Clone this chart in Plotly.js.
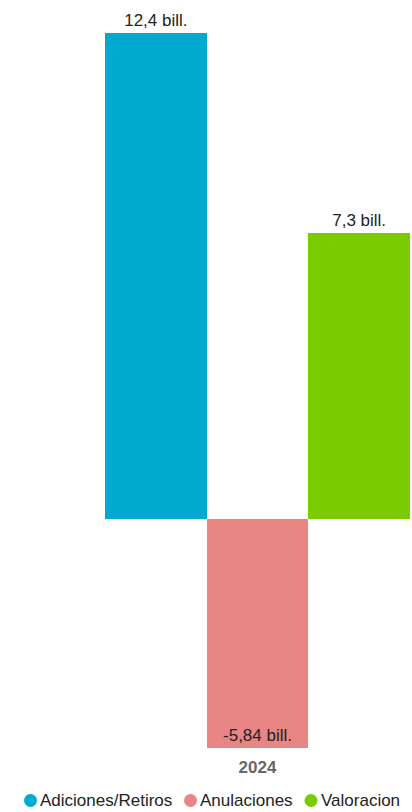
<!DOCTYPE html>
<html>
<head>
<meta charset="utf-8">
<script src="https://cdn.plot.ly/plotly-3.0.1.min.js"></script>
<style>
  html, body { margin: 0; padding: 0; background: #fff; }
  #chart { width: 412px; height: 812px; }
</style>
</head>
<body>
<div id="chart"></div>
<script>
// ---- data ----
const categories = ['2024'];
const seriesNames = ['Adiciones/Retiros', 'Anulaciones', 'Valoracion'];
const adicionesRetiros = [12.4];
const anulaciones = [-5.84];
const valoracion = [7.3];
const unitSuffix = ' bill.';

// ---- styles ----
const colors = ['#00A9CE', '#E88585', '#7ACC00'];
const font = 'Liberation Sans, Arial, sans-serif';
const seriesValues = [adicionesRetiros, anulaciones, valoracion];

function fmt(v) { return String(v).replace('.', ',') + unitSuffix; }

const traces = seriesValues.map((vals, i) => ({
  type: 'bar',
  name: seriesNames[i],
  x: categories,
  y: vals,
  marker: { color: colors[i], line: { width: 0 } },
  text: vals.map(fmt),
  textposition: vals.map(v => v < 0 ? 'inside' : 'outside'),
  insidetextanchor: 'end',
  constraintext: 'none',
  cliponaxis: false,
  textfont: { family: font, size: 17, color: '#222' },
  insidetextfont: { family: font, size: 17, color: '#222' },
  outsidetextfont: { family: font, size: 17, color: '#222' },
  hoverinfo: 'skip',
  showlegend: false
}));

// legend built as annotations + circle shapes (paper coords)
const plotL = 105, plotW = 305, plotT = 33, plotH = 715;
const legendCx = [30.5, 190.5, 311];
const legendY = 800.5;
const px2x = p => (p - plotL) / plotW;
const py2y = p => (plotT + plotH - p) / plotH;

const shapes = seriesNames.map((n, i) => ({
  type: 'circle', xref: 'paper', yref: 'paper',
  xsizemode: 'pixel', ysizemode: 'pixel',
  xanchor: px2x(legendCx[i]), yanchor: py2y(legendY),
  x0: -6.5, x1: 6.5, y0: -6.5, y1: 6.5,
  fillcolor: colors[i], line: { width: 0 }
}));
const annotations = seriesNames.map((n, i) => ({
  xref: 'paper', yref: 'paper',
  x: px2x(legendCx[i] + 7.5), y: py2y(legendY),
  xanchor: 'left', yanchor: 'middle',
  text: n, showarrow: false,
  font: { family: font, size: 17, color: '#222' }
}));

const layout = {
  width: 412, height: 812,
  margin: { l: plotL, r: 412 - plotL - plotW, t: plotT, b: 812 - plotT - plotH, pad: 0 },
  paper_bgcolor: '#fff', plot_bgcolor: '#fff',
  barmode: 'group', bargap: 0, bargroupgap: 0,
  showlegend: false,
  xaxis: {
    type: 'category', showgrid: false, zeroline: false, showline: false, ticks: '',
    tickfont: { family: font, size: 17, color: '#666', weight: 'bold' },
    ticklabelstandoff: 7, fixedrange: true
  },
  yaxis: {
    visible: false, range: [-5.84, 12.4], showgrid: false, zeroline: false, fixedrange: true
  },
  shapes: shapes,
  annotations: annotations
};

Plotly.newPlot('chart', traces, layout, { displayModeBar: false, staticPlot: true });
</script>
</body>
</html>
